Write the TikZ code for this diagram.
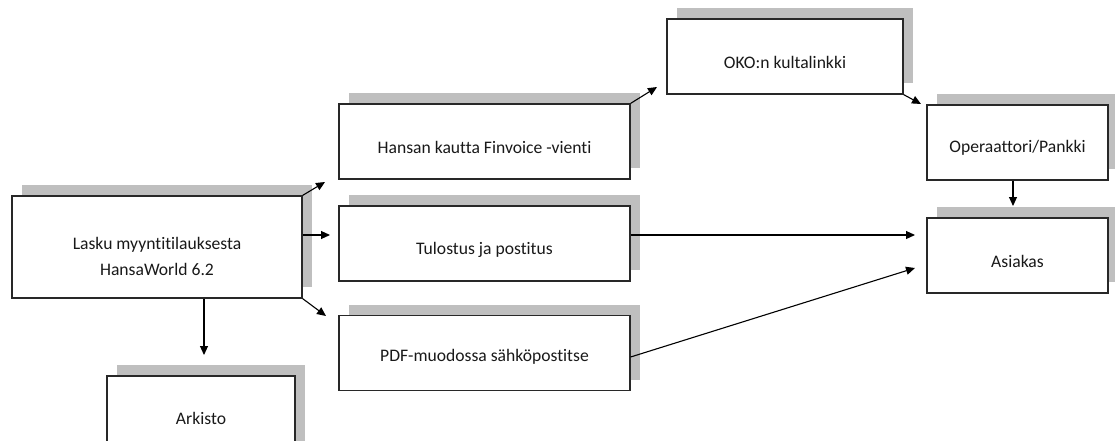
\documentclass[tikz,border=0pt]{standalone}
\usepackage{fontspec}
\setmainfont[Ligatures=NoCommon]{Carlito}
\usetikzlibrary{shadows,arrows.meta}
\definecolor{shadowgray}{RGB}{191,191,191}
\definecolor{linegray}{RGB}{40,40,40}
\tikzset{
  box/.style={draw=linegray, line width=1.2pt, fill=white, rectangle, inner sep=0pt,
    drop shadow={shadow xshift=10pt, shadow yshift=11pt, fill=shadowgray, opacity=1}},
  txt/.style={font=\fontsize{17.6}{26}\selectfont, align=center, text=black!90},
  conn/.style={draw=black, line width=1.1pt, -{Triangle[length=9pt,width=8pt]}}
}
\begin{document}
\begin{tikzpicture}[x=1pt,y=-1pt]
\useasboundingbox (0,0) rectangle (1115,441);
% boxes
\node[box, minimum width=290pt, minimum height=102pt] (lasku) at (157,247) {};
\node[txt] (laskut) at (157,256) {Lasku myyntitilauksesta\\HansaWorld 6.2};
\node[box, minimum width=291pt, minimum height=75pt] (hansan) at (484.5,141.5) {};
\node[txt] (hansant) at (484.5,147.5) {Hansan kautta Finvoice -vienti};
\node[box, minimum width=291pt, minimum height=75pt] (tulostus) at (484.5,243.5) {};
\node[txt] (tulostust) at (484.5,249.5) {Tulostus ja postitus};
\node[box, minimum width=291pt, minimum height=75pt] (pdf) at (484.5,353) {};
\node[txt] (pdft) at (484.5,357) {PDF-muodossa sähköpostitse};
\node[box, minimum width=236pt, minimum height=75pt] (oko) at (785,56.5) {};
\node[txt] (okot) at (785,62) {OKO:n kultalinkki};
\node[box, minimum width=181pt, minimum height=75pt] (oper) at (1017.5,142.5) {};
\node[txt] (opert) at (1017.5,148) {Operaattori/Pankki};
\node[box, minimum width=181pt, minimum height=75pt] (asiakas) at (1017.5,255.5) {};
\node[txt] (asiakast) at (1017.5,261) {Asiakas};
\node[box, minimum width=188pt, minimum height=80pt] (arkisto) at (201,416) {};
\node[txt] (arkistot) at (201,418) {Arkisto};
% free arrow ends
\coordinate (e1) at (325,182);
\coordinate (e2) at (330,235);
\coordinate (e3) at (326,316);
\coordinate (e4) at (204,355);
\coordinate (e5) at (657,87);
\coordinate (e6) at (921,104);
\coordinate (e7) at (1013,206);
\coordinate (e8) at (915,235);
\coordinate (e9) at (915,268);
% connectors
\draw[conn] (lasku.north east) -- (e1);
\draw[conn] (lasku.east |- e2) -- (e2);
\draw[conn] (lasku.south east) -- (e3);
\draw[conn] (lasku.south -| e4) -- (e4);
\draw[conn] (hansan.north east) -- (e5);
\draw[conn] (oko.south east) -- (e6);
\draw[conn] (oper.south -| e7) -- (e7);
\draw[conn] (tulostus.east |- e8) -- (e8);
\draw[conn] ([yshift=-4pt]pdf.east) -- (e9);
\end{tikzpicture}
\end{document}
